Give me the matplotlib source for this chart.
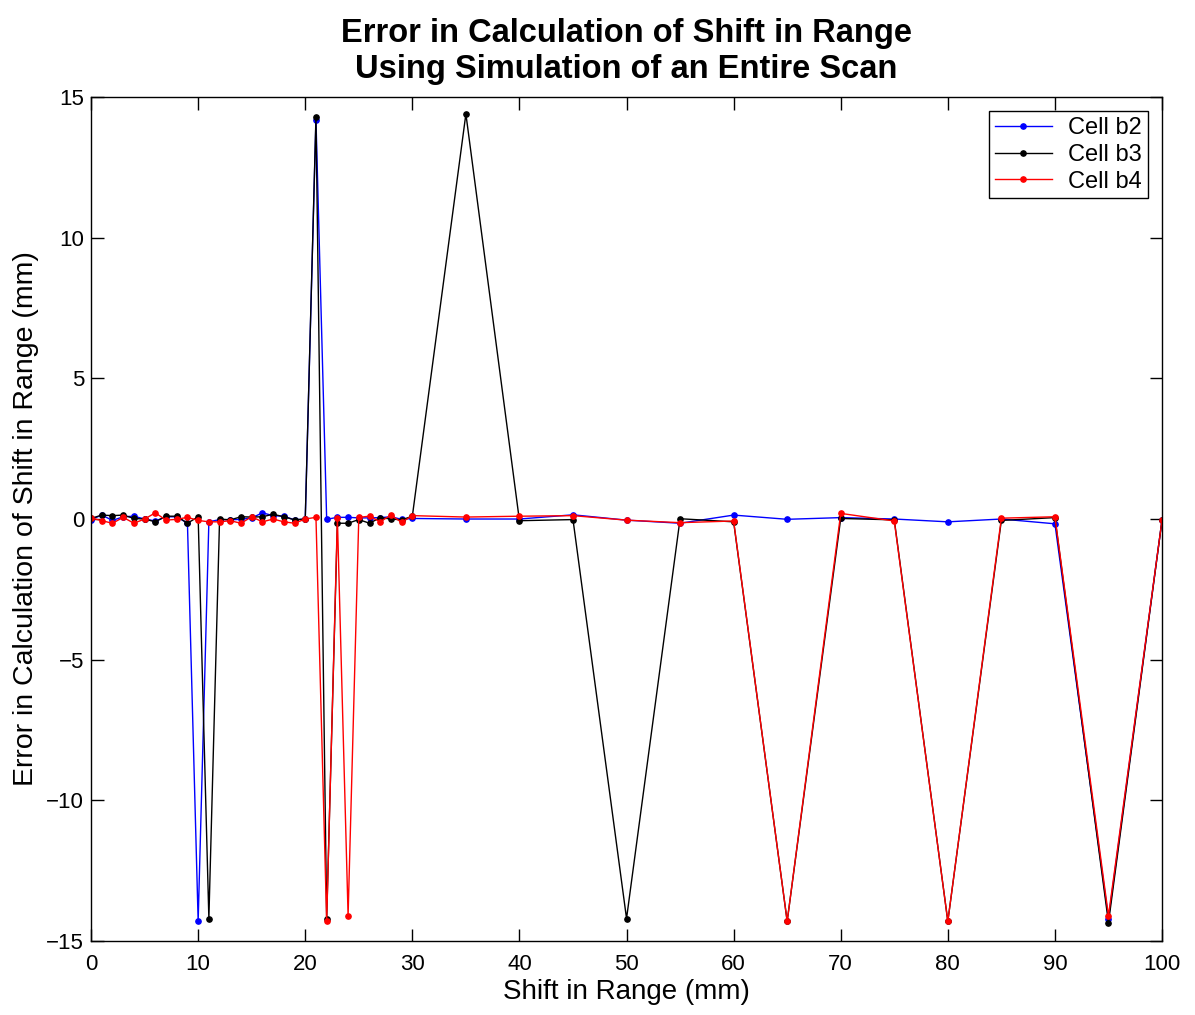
import matplotlib
matplotlib.use("Agg")
import matplotlib.pyplot as plt

plt.rcParams['font.family'] = ['Liberation Sans', 'DejaVu Sans']

x = list(range(0, 31)) + [35, 40, 45, 50, 55, 60, 65, 70, 75, 80, 85, 90, 95, 100]

b2 = [-0.02, 0.14, -0.05, 0.08, 0.10, 0.0, -0.07, 0.08, 0.08, -0.15, -14.3,
      -0.10, -0.02, -0.03, -0.01, 0.04, 0.22, 0.12, 0.10, -0.03, 0.0,
      14.2, -0.01, 0.06, 0.06, 0.04, 0.04, 0.05, 0.08, -0.01, 0.02,
      0.0, 0.0, 0.15, -0.04, -0.15, 0.14, -0.01, 0.05, 0.0, -0.10, 0.0, -0.17, -14.2, -0.04]

b3 = [0.02, 0.14, 0.12, 0.14, 0.02, 0.0, -0.10, 0.10, 0.10, -0.15, 0.08,
      -14.2, 0.0, -0.03, 0.08, 0.07, 0.08, 0.17, 0.08, -0.03, 0.0,
      14.3, -14.2, -0.15, -0.15, -0.02, -0.15, 0.05, 0.0, -0.03, 0.10,
      14.4, -0.06, -0.02, -14.2, 0.01, -0.10, -14.3, 0.02, -0.03, -14.3, -0.05, 0.05, -14.35, -0.04]

b4 = [0.04, -0.06, -0.15, 0.06, -0.15, 0.0, 0.22, -0.04, -0.01, 0.06, -0.05,
      -0.10, -0.10, -0.06, -0.15, 0.08, -0.10, 0.0, -0.10, -0.15, 0.0,
      0.06, -14.3, 0.03, -14.1, 0.06, 0.10, -0.10, 0.14, -0.12, 0.12,
      0.07, 0.10, 0.12, -0.04, -0.13, -0.07, -14.3, 0.20, -0.07, -14.3, 0.03, 0.08, -14.1, -0.04]

series_names = ['Cell b2', 'Cell b3', 'Cell b4']
colors = ['#0000ff', '#000000', '#ff0000']

fig = plt.figure(figsize=(11.95, 10.15), dpi=100)
ax = fig.add_axes([0.0762, 0.0729, 0.8962, 0.8315])

for ys, name, c in zip([b2, b3, b4], series_names, colors):
    ax.plot(x, ys, '-', color=c, marker='o', markersize=3.8, linewidth=1.0, label=name)

ax.set_xlim(0, 100)
ax.set_ylim(-15, 15)
ax.set_xticks(range(0, 101, 10))
ax.set_yticks([-15, -10, -5, 0, 5, 10, 15])
ax.set_yticklabels(['\u221215', '\u221210', '\u22125', '0', '5', '10', '15'])
ax.tick_params(direction='in', top=True, right=True, labelsize=16, length=9, width=1)
ax.tick_params(axis='x', pad=9)
ax.tick_params(axis='y', pad=5)
for s in ax.spines.values():
    s.set_linewidth(1.0)

ax.set_xlabel('Shift in Range (mm)', fontsize=20, labelpad=3)
ax.set_ylabel('Error in Calculation of Shift in Range (mm)', fontsize=20.5, labelpad=5)
ax.set_title('Error in Calculation of Shift in Range\nUsing Simulation of an Entire Scan',
             fontsize=23.5, fontweight='bold', pad=14, linespacing=1.2)

leg = ax.legend(loc='upper right', fontsize=17, fancybox=False, framealpha=1,
                edgecolor='black', borderaxespad=0.6, handlelength=2.4,
                labelspacing=0.2, borderpad=0.25, handletextpad=0.7)
leg.get_frame().set_linewidth(1.0)

fig.savefig('out.png', dpi=100)
